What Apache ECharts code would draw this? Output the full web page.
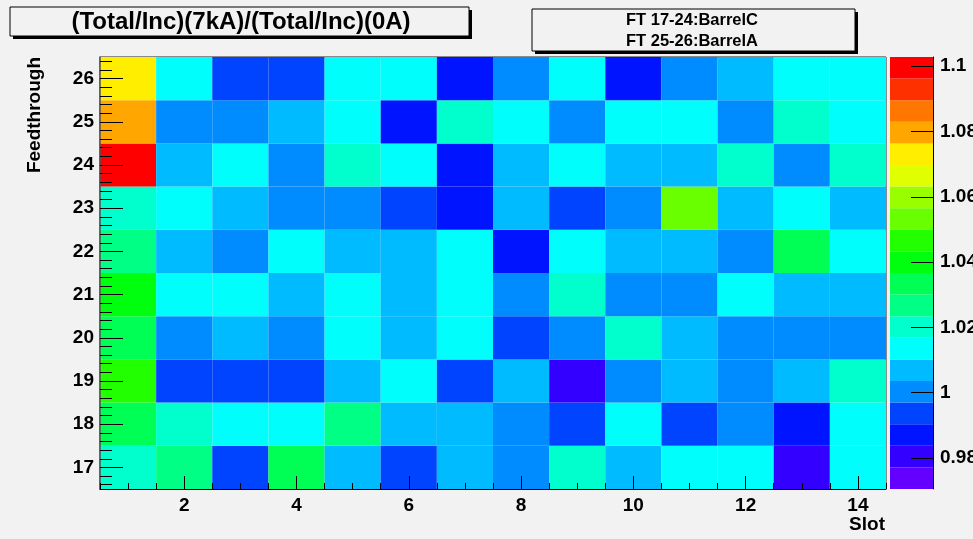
<!DOCTYPE html>
<html>
<head>
<meta charset="utf-8">
<script src="https://cdn.jsdelivr.net/npm/echarts@6/dist/echarts.min.js"></script>
<style>
  html, body { margin: 0; padding: 0; background: #f2f2f2; }
  #chart { width: 973px; height: 539px; }
</style>
</head>
<body>
<div id="chart"></div>
<script>
// slots on x, feedthroughs on y
const slots = [1, 2, 3, 4, 5, 6, 7, 8, 9, 10, 11, 12, 13, 14]
const feedthroughs = [17, 18, 19, 20, 21, 22, 23, 24, 25, 26]

// (Total/Inc)(7kA)/(Total/Inc)(0A), one array per feedthrough, slot 1..14
const ft17 = [1.019, 1.026, 0.994, 1.033, 1.007, 0.993, 1.006, 1.001, 1.020, 1.008, 1.013, 1.015, 0.979, 1.012]
const ft18 = [1.034, 1.020, 1.013, 1.015, 1.027, 1.006, 1.008, 1.000, 0.993, 1.012, 0.995, 0.999, 0.987, 1.014]
const ft19 = [1.047, 0.993, 0.994, 0.995, 1.007, 1.013, 0.992, 1.006, 0.980, 1.000, 1.005, 1.001, 1.007, 1.021]
const ft20 = [1.033, 1.001, 1.006, 0.999, 1.014, 1.007, 1.012, 0.994, 1.000, 1.020, 1.008, 1.002, 0.999, 1.001]
const ft21 = [1.040, 1.012, 1.014, 1.006, 1.013, 1.008, 1.015, 1.000, 1.021, 0.999, 1.002, 1.013, 1.007, 1.005]
const ft22 = [1.027, 1.007, 1.000, 1.014, 1.006, 1.008, 1.012, 0.986, 1.013, 1.007, 1.005, 1.001, 1.034, 1.015]
const ft23 = [1.020, 1.015, 1.006, 1.001, 0.999, 0.993, 0.988, 1.007, 0.994, 1.000, 1.053, 1.005, 1.013, 1.008]
const ft24 = [1.100, 1.006, 1.013, 1.000, 1.020, 1.014, 0.986, 1.007, 1.012, 1.005, 1.008, 1.021, 0.998, 1.019]
const ft25 = [1.080, 1.000, 1.002, 1.007, 1.013, 0.987, 1.021, 1.014, 0.999, 1.012, 1.015, 1.001, 1.019, 1.013]
const ft26 = [1.073, 1.014, 0.993, 0.995, 1.012, 1.015, 0.986, 1.001, 1.013, 0.988, 0.999, 1.006, 1.014, 1.012]
const rows = [ft17, ft18, ft19, ft20, ft21, ft22, ft23, ft24, ft25, ft26]

// colour scale (ROOT pretty palette, 20 contours)
const zMin = 0.9705
const zMax = 1.1028
const paletteColors = [
  '#6300ff', '#3300ff', '#0014ff', '#0044ff', '#008bff',
  '#00bbff', '#00fffc', '#00ffcc', '#00ff85', '#00ff55',
  '#00ff0e', '#22ff00', '#69ff00', '#99ff00', '#e0ff00',
  '#ffee00', '#ffa700', '#ff7700', '#ff3000', '#ff0000'
]
const xTickLabels = [2, 4, 6, 8, 10, 12, 14]
const zTickLabels = [0.98, 1, 1.02, 1.04, 1.06, 1.08, 1.1]

const font = "'Liberation Sans', Arial, Helvetica, sans-serif"
const bg = '#f2f2f2'

const cells = []
rows.forEach((r, j) => r.forEach((v, i) => cells.push([slots[i], feedthroughs[j], v])))

const dz = (zMax - zMin) / paletteColors.length
const levels = paletteColors.map((c, k) => [0, zMin + k * dz, zMin + (k + 1) * dz, k])
const pieces = levels.map(l => ({ gte: l[1], lt: l[2], color: paletteColors[l[3]] }))
pieces[pieces.length - 1].lte = zMax + 1e-9
delete pieces[pieces.length - 1].lt

// minor tick positions
const xMinor = []
for (let k = 1; k <= 29; k++) xMinor.push(k / 2)
const yMinor = []
for (let k = 0; k <= 50; k++) yMinor.push((166 + 2 * k) / 10)

const labelStyle = { color: '#000', fontFamily: font, fontWeight: 'bold', fontSize: 19 }

const chart = echarts.init(document.getElementById('chart'), null, { renderer: 'canvas' })

chart.setOption({
  backgroundColor: bg,
  animation: false,
  grid: [
    { left: 100, top: 57, width: 786, height: 432, outerBoundsMode: 'none', containLabel: false,
      show: true, borderColor: '#222', borderWidth: 1, backgroundColor: bg, z: 0 },
    { left: 890, top: 57, width: 43, height: 432, outerBoundsMode: 'none', containLabel: false }
  ],
  xAxis: [
    {
      type: 'value', gridIndex: 0, position: 'bottom', min: 0.5, max: 14.5, z: 10,
      axisLine: { show: true, onZero: false, lineStyle: { color: '#000', width: 1 } },
      axisTick: { show: true, inside: true, length: 13, customValues: xTickLabels, lineStyle: { color: '#000' } },
      axisLabel: { ...labelStyle, margin: 7, customValues: xTickLabels },
      splitLine: { show: false }
    },
    {
      type: 'value', gridIndex: 0, position: 'bottom', min: 0.5, max: 14.5, z: 10,
      axisLine: { show: false, onZero: false },
      axisTick: { show: true, inside: true, length: 6, customValues: xMinor, lineStyle: { color: '#000' } },
      axisLabel: { show: false },
      splitLine: { show: false }
    },
    { type: 'value', gridIndex: 1, min: 0, max: 1, show: false }
  ],
  yAxis: [
    {
      type: 'value', gridIndex: 0, position: 'left', min: 16.5, max: 26.5, z: 10,
      axisLine: { show: true, onZero: false, lineStyle: { color: '#555', width: 1.5 } },
      axisTick: { show: true, inside: true, length: 23, customValues: feedthroughs, lineStyle: { color: '#000' } },
      axisLabel: { ...labelStyle, margin: 6, customValues: feedthroughs },
      splitLine: { show: false }
    },
    {
      type: 'value', gridIndex: 0, position: 'left', min: 16.5, max: 26.5, z: 10,
      axisLine: { show: false, onZero: false },
      axisTick: { show: true, inside: true, length: 12, customValues: yMinor, lineStyle: { color: '#000' } },
      axisLabel: { show: false },
      splitLine: { show: false }
    },
    {
      type: 'value', gridIndex: 1, min: zMin, max: zMax, position: 'right', z: 10,
      axisLine: { show: true, onZero: false, lineStyle: { color: '#000', width: 1 } },
      axisTick: { show: true, inside: true, length: 22, customValues: zTickLabels, lineStyle: { color: '#000' } },
      axisLabel: { ...labelStyle, margin: 7, customValues: zTickLabels },
      splitLine: { show: false }
    }
  ],
  visualMap: {
    type: 'piecewise', show: false, seriesIndex: 0, dimension: 2, pieces
  },
  series: [
    {
      type: 'custom', xAxisIndex: 0, yAxisIndex: 0, z: 1,
      data: cells,
      encode: { x: 0, y: 1 },
      renderItem: (params, api) => {
        const p0 = api.coord([api.value(0) - 0.5, api.value(1) + 0.5])
        const p1 = api.coord([api.value(0) + 0.5, api.value(1) - 0.5])
        return {
          type: 'rect',
          shape: { x: p0[0], y: p0[1], width: p1[0] - p0[0], height: p1[1] - p0[1] },
          style: { fill: api.visual('color') }
        }
      }
    },
    {
      type: 'custom', xAxisIndex: 2, yAxisIndex: 2, z: 1,
      data: levels,
      encode: { x: 0, y: [1, 2] },
      renderItem: (params, api) => {
        const p0 = api.coord([0, api.value(2)])
        const p1 = api.coord([1, api.value(1)])
        return {
          type: 'rect',
          shape: { x: p0[0], y: p0[1], width: p1[0] - p0[0], height: p1[1] - p0[1] },
          style: { fill: paletteColors[api.value(3)] }
        }
      }
    }
  ],
  graphic: [
    // title pave
    { type: 'rect', shape: { x: 13, y: 10, width: 459, height: 29 }, style: { fill: '#000' } },
    { type: 'rect', shape: { x: 10, y: 7, width: 459, height: 29 }, style: { fill: bg, stroke: '#000', lineWidth: 1 } },
    { type: 'text', x: 241, y: 22, style: { text: '(Total/Inc)(7kA)/(Total/Inc)(0A)', font: `bold 24px ${font}`, fill: '#000', align: 'center', verticalAlign: 'middle' } },
    // legend pave
    { type: 'rect', shape: { x: 535, y: 12, width: 323, height: 42 }, style: { fill: '#000' } },
    { type: 'rect', shape: { x: 532, y: 9, width: 323, height: 42 }, style: { fill: bg, stroke: '#000', lineWidth: 1 } },
    { type: 'text', x: 692, y: 20, style: { text: 'FT 17-24:BarrelC', font: `bold 16.5px ${font}`, fill: '#000', align: 'center', verticalAlign: 'middle' } },
    { type: 'text', x: 692, y: 41, style: { text: 'FT 25-26:BarrelA', font: `bold 16.5px ${font}`, fill: '#000', align: 'center', verticalAlign: 'middle' } },
    // axis titles
    { type: 'text', x: 885, y: 525, style: { text: 'Slot', font: `bold 19px ${font}`, fill: '#000', align: 'right', verticalAlign: 'middle' } },
    { type: 'text', x: 35, y: 57, rotation: Math.PI / 2, style: { text: 'Feedthrough', font: `bold 19px ${font}`, fill: '#000', align: 'right', verticalAlign: 'middle' } }
  ]
})
</script>
</body>
</html>
